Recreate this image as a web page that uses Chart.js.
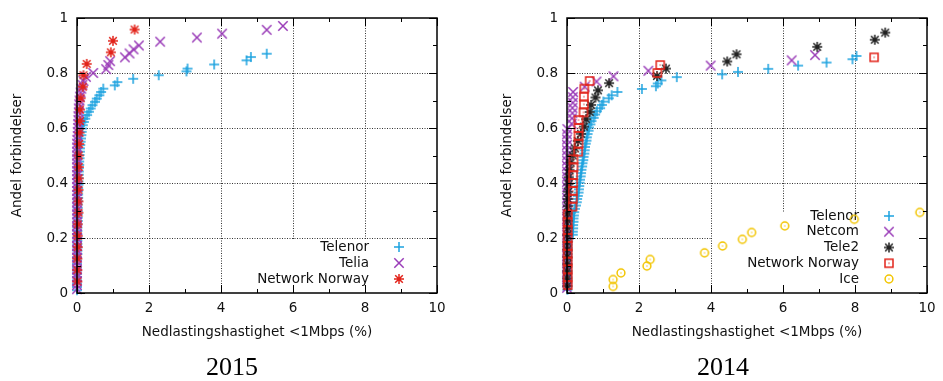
<!DOCTYPE html>
<html>
<head>
<meta charset="utf-8">
<script src="https://cdn.jsdelivr.net/npm/chart.js@4.4.1/dist/chart.umd.min.js"></script>
<style>
	html, body { margin: 0; padding: 0; background: #fff; }
	#wrap { position: relative; width: 943px; height: 381px; overflow: hidden; }
	canvas { position: absolute; top: 0; }
	#c2015 { left: 0; }
	#c2014 { left: 470px; }
</style>
</head>
<body>
<div id="wrap">
	<canvas id="c2015" width="470" height="381"></canvas>
	<canvas id="c2014" width="473" height="381"></canvas>
</div>
<script>
/* Two gnuplot-like scatter plots: share of connections vs download speed <1Mbps (%) */

var xTitle = 'Nedlastingshastighet <1Mbps (%)';
var yTitle = 'Andel forbindelser';

// 2015 series, pairs of [x (%), y (share)]
var telenor2015 = [[5.27,.870],[4.83,.858],[4.71,.846],[3.81,.831],[3.07,.816],[3.04,.806],[2.27,.792],[1.56,.779],[1.12,.767],[1.05,.755],[0.73,.743],[0.67,.731],[0.62,.719],[0.55,.707],[0.50,.695],[0.43,.683],[0.38,.671],[0.33,.659],[0.28,.647],[0.23,.634],[0.19,.622],[0.16,.610],[0.14,.598],[0.13,.586],[0.12,.574],[0.11,.562],[0.10,.550],[0.09,.538],[0.08,.526],[0.08,.514],[0.07,.502],[0.07,.490],[0.06,.478],[0.06,.466],[0.05,.454],[0.05,.442],[0.05,.430],[0.04,.418],[0.04,.406],[0.04,.394],[0.03,.382],[0.03,.370],[0.03,.358],[0.03,.346],[0.02,.334],[0.02,.322],[0.02,.310],[0.02,.298],[0.02,.286],[0.02,.274],[0.02,.262],[0.01,.250],[0.01,.238],[0.01,.226],[0.01,.214],[0.01,.202],[0.01,.190],[0.01,.178],[0.01,.166],[0.01,.154],[0.01,.142],[0,.130],[0,.118],[0,.106],[0,.094],[0,.082],[0,.070],[0,.058],[0,.046],[0,.034],[0,.022],[0,.010]];
var telia2015 = [[5.72,.971],[5.27,.957],[4.03,.943],[3.33,.929],[2.31,.914],[1.72,.900],[1.57,.886],[1.46,.871],[1.33,.857],[0.92,.843],[0.87,.829],[0.81,.814],[0.45,.800],[0.25,.786],[0.18,.771],[0.15,.757],[0.12,.743],[0.10,.729],[0.08,.714],[0.07,.700],[0.06,.686],[0.05,.671],[0.05,.657],[0.04,.643],[0.04,.629],[0.03,.614],[0.03,.600],[0.02,.586],[0.02,.571],[0.01,.557],[0,.543],[0,.529],[0,.514],[0,.500],[0,.486],[0,.471],[0,.457],[0,.443],[0,.429],[0,.414],[0,.400],[0,.386],[0,.371],[0,.357],[0,.343],[0,.329],[0,.314],[0,.300],[0,.286],[0,.271],[0,.257],[0,.243],[0,.229],[0,.214],[0,.200],[0,.186],[0,.171],[0,.157],[0,.143],[0,.129],[0,.114],[0,.100],[0,.086],[0,.071],[0,.057],[0,.043],[0,.029],[0,.014]];
var netNorway2015 = [[1.60,.958],[1.00,.917],[0.94,.875],[0.27,.833],[0.18,.792],[0.16,.750],[0.10,.708],[0.08,.667],[0.08,.625],[0.07,.583],[0.06,.542],[0.05,.500],[0.05,.458],[0.05,.417],[0.04,.375],[0.04,.333],[0.04,.292],[0.02,.250],[0.02,.208],[0.02,.167],[0.01,.125],[0.01,.083],[0.01,.042]];

// 2014 series
var telenor2014 = [[8.04,.862],[7.93,.850],[7.21,.838],[6.42,.827],[5.59,.815],[4.75,.804],[4.31,.795],[3.05,.785],[2.62,.773],[2.52,.762],[2.47,.752],[2.08,.742],[1.40,.731],[1.24,.719],[1.16,.708],[1.01,.696],[0.97,.684],[0.92,.672],[0.83,.661],[0.78,.649],[0.74,.637],[0.68,.625],[0.65,.613],[0.61,.602],[0.60,.590],[0.57,.578],[0.55,.566],[0.54,.554],[0.52,.543],[0.50,.531],[0.49,.519],[0.48,.507],[0.46,.495],[0.45,.483],[0.43,.472],[0.42,.460],[0.40,.448],[0.39,.436],[0.38,.424],[0.36,.412],[0.35,.401],[0.34,.389],[0.33,.377],[0.32,.365],[0.30,.353],[0.28,.342],[0.27,.330],[0.25,.318],[0.22,.306],[0.20,.294],[0.19,.282],[0.18,.271],[0.18,.259],[0.17,.247],[0.17,.235],[0.16,.223],[0.16,.212],[0.03,.200],[0.03,.188],[0.02,.176],[0.02,.165],[0.02,.153],[0.02,.141],[0.02,.129],[0.01,.118],[0.01,.106],[0.01,.094],[0.01,.082],[0.01,.071],[0.01,.059],[0.01,.047],[0.01,.035],[0.01,.024],[0.01,.012]];
var netcom2014 = [[6.89,.865],[6.24,.846],[3.99,.827],[2.26,.808],[1.29,.788],[0.82,.769],[0.49,.750],[0.17,.731],[0.16,.712],[0.16,.692],[0.15,.673],[0.15,.654],[0.14,.635],[0.13,.615],[0.01,.596],[0,.577],[0,.558],[0,.538],[0,.519],[0,.500],[0,.481],[0,.462],[0,.442],[0,.423],[0,.404],[0,.385],[0,.365],[0,.346],[0,.327],[0,.308],[0,.288],[0,.269],[0,.250],[0,.231],[0,.212],[0,.192],[0,.173],[0,.154],[0,.135],[0,.115],[0,.096],[0,.077],[0,.058],[0,.038],[0,.019]];
var tele22014 = [[8.84,.947],[8.55,.921],[6.95,.895],[4.71,.868],[4.45,.842],[2.75,.816],[2.50,.789],[1.17,.763],[0.86,.737],[0.79,.711],[0.67,.684],[0.63,.658],[0.53,.632],[0.47,.605],[0.39,.579],[0.30,.553],[0.22,.526],[0.16,.500],[0.10,.474],[0.07,.447],[0.05,.421],[0.04,.395],[0.03,.368],[0.02,.342],[0.02,.316],[0.02,.289],[0.02,.263],[0.02,.237],[0.01,.211],[0.01,.184],[0.01,.158],[0.01,.132],[0.01,.105],[0.01,.079],[0.01,.053],[0.01,.026]];
var netNorway2014 = [[8.53,.857],[2.59,.829],[2.51,.800],[0.63,.771],[0.48,.743],[0.47,.714],[0.47,.686],[0.46,.657],[0.32,.629],[0.32,.600],[0.32,.571],[0.32,.543],[0.31,.514],[0.18,.486],[0.18,.457],[0.17,.429],[0.17,.400],[0.16,.371],[0.16,.343],[0.15,.314],[0.02,.286],[0.02,.257],[0.02,.229],[0.02,.200],[0.02,.171],[0.02,.143],[0.02,.114],[0.02,.086],[0.02,.057],[0.02,.029]];
var ice2014 = [[1.28,.024],[1.28,.049],[1.50,.073],[2.22,.098],[2.31,.122],[3.82,.146],[4.32,.171],[4.87,.195],[5.13,.220],[6.05,.244],[7.98,.268],[9.80,.293]];

var xTicksStep = 2;
var yTicksStep = 0.2;

var FONT = 'DejaVu Sans';
var TEXT = '#111';

// small canvas images that imitate gnuplot point types
function marker(kind, color) {
	var c = document.createElement('canvas');
	c.width = 12; c.height = 12;
	var g = c.getContext('2d');
	g.strokeStyle = color; g.fillStyle = color; g.lineWidth = 1.5;
	g.beginPath();
	if (kind == 'plus' || kind == 'star') { g.moveTo(1, 6); g.lineTo(11, 6); g.moveTo(6, 1); g.lineTo(6, 11); }
	if (kind == 'cross' || kind == 'star') {
		var d = kind == 'star' ? 2.2 : 1.3;
		g.moveTo(d, d); g.lineTo(12 - d, 12 - d); g.moveTo(12 - d, d); g.lineTo(d, 12 - d);
	}
	if (kind == 'square') g.rect(2, 2, 8, 8);
	if (kind == 'circle') g.arc(6, 6, 3.9, 0, Math.PI * 2);
	g.stroke();
	if (kind == 'square' || kind == 'circle') g.fillRect(5.4, 5.4, 1.2, 1.2);
	return c;
}

function serie(label, pairs, kind, color, n, i) {
	return {
		label: label,
		data: pairs.map(function (p) { return { x: p[0], y: p[1] }; }),
		pointStyle: marker(kind, color),
		pointRadius: 5,
		pointHoverRadius: 5,
		showLine: false,
		clip: false,
		order: n - i   // first series at the bottom, like gnuplot
	};
}

// grid, key, frame, inward ticks and caption
var gnuplotLook = {
	id: 'gnuplotLook',
	beforeDatasetsDraw: function (chart, args, opt) {
		var ctx = chart.ctx, a = chart.chartArea;
		var xs = chart.scales.x, ys = chart.scales.y;
		ctx.save();
		ctx.strokeStyle = '#333';
		ctx.lineWidth = 1;
		ctx.setLineDash([1, 1.5]);
		xs.ticks.forEach(function (t) {
			if (t.value <= xs.min || t.value >= xs.max) return;
			var px = Math.round(xs.getPixelForValue(t.value)) + 0.5;
			ctx.beginPath(); ctx.moveTo(px, a.top); ctx.lineTo(px, a.bottom); ctx.stroke();
		});
		ys.ticks.forEach(function (t) {
			if (t.value <= ys.min || t.value >= ys.max) return;
			var py = Math.round(ys.getPixelForValue(t.value)) + 0.5;
			ctx.beginPath(); ctx.moveTo(a.left, py); ctx.lineTo(a.right, py); ctx.stroke();
		});
		ctx.setLineDash([]);

		// key with opaque background
		var k = opt.key;
		ctx.fillStyle = '#fff';
		ctx.fillRect(k.left, k.top, a.right - k.left, a.bottom - k.top);
		ctx.font = '13.5px "' + FONT + '"';
		ctx.fillStyle = TEXT;
		ctx.textAlign = 'right';
		ctx.textBaseline = 'middle';
		chart.data.datasets.forEach(function (ds, i) {
			var y = k.firstY + i * k.step;
			ctx.fillText(ds.label, k.textRight, y);
			var im = ds.pointStyle;
			ctx.drawImage(im, k.markX - im.width / 2, y - im.height / 2);
		});
		ctx.restore();
	},
	afterDatasetsDraw: function (chart) {
		var ctx = chart.ctx, a = chart.chartArea;
		var xs = chart.scales.x, ys = chart.scales.y;
		ctx.save();
		ctx.strokeStyle = '#000';
		ctx.lineWidth = 1;
		function ticks(scale, horiz) {
			var v = scale.ticks.map(function (t) { return t.value; });
			for (var i = 0; i < v.length; i++) {
				var list = [[v[i], 8]];
				if (i < v.length - 1) list.push([(v[i] + v[i + 1]) / 2, 4]);
				list.forEach(function (m) {
					var p = Math.round(scale.getPixelForValue(m[0])) + 0.5;
					ctx.beginPath();
					if (horiz) {
						ctx.moveTo(p, a.bottom); ctx.lineTo(p, a.bottom - m[1]);
						ctx.moveTo(p, a.top); ctx.lineTo(p, a.top + m[1]);
					} else {
						ctx.moveTo(a.left, p); ctx.lineTo(a.left + m[1], p);
						ctx.moveTo(a.right, p); ctx.lineTo(a.right - m[1], p);
					}
					ctx.stroke();
				});
			}
		}
		ticks(xs, true);
		ticks(ys, false);
		ctx.lineWidth = 1.5;
		ctx.strokeRect(a.left, a.top, a.right - a.left, a.bottom - a.top);
		ctx.restore();
	},
	afterDraw: function (chart, args, opt) {
		var ctx = chart.ctx;
		ctx.save();
		ctx.font = '26px "Liberation Serif"';
		ctx.fillStyle = '#000';
		ctx.textAlign = 'center';
		ctx.textBaseline = 'alphabetic';
		ctx.fillText(opt.caption.text, opt.caption.x, opt.caption.y);
		ctx.restore();
	}
};

function oneDecimal(v) { return String(Number(v.toFixed(1))); }

function creaGrafica(id, series, padLeft, padRight, key, caption) {
	var n = series.length;
	var datasets = series.map(function (s, i) { return serie(s[0], s[1], s[2], s[3], n, i); });
	return new Chart(document.getElementById(id), {
		type: 'scatter',
		data: { datasets: datasets },
		options: {
			responsive: false,
			animation: false,
			devicePixelRatio: 1,
			events: [],
			layout: { padding: { left: padLeft, top: 18, right: padRight, bottom: 38 } },
			plugins: {
				legend: { display: false },
				tooltip: { enabled: false },
				gnuplotLook: { key: key, caption: caption }
			},
			scales: {
				x: {
					type: 'linear', min: 0, max: 10,
					grid: { display: false, drawTicks: false },
					border: { display: false },
					ticks: { stepSize: xTicksStep, padding: 7, color: TEXT, font: { family: FONT, size: 13.5 }, maxRotation: 0 },
					title: { display: true, text: xTitle, color: TEXT, font: { family: FONT, size: 13.5 }, padding: { top: 0, bottom: 2 } },
					afterFit: function (s) { s.height = 50; }
				},
				y: {
					type: 'linear', min: 0, max: 1,
					grid: { display: false, drawTicks: false },
					border: { display: false },
					ticks: { stepSize: yTicksStep, padding: 9, color: TEXT, font: { family: FONT, size: 13.5 }, callback: oneDecimal },
					title: { display: true, text: yTitle, color: TEXT, font: { family: FONT, size: 13.5 }, padding: { top: 9, bottom: 0 } },
					afterFit: function (s) { s.width = 77; }
				}
			}
		},
		plugins: [gnuplotLook]
	});
}

var TELENOR = '#1ca3e0', PURPLE = '#9a3cb8', RED = '#e2231a', BLACK = '#222222', YELLOW = '#f2c500';

creaGrafica('c2015', [
	['Telenor', telenor2015, 'plus', TELENOR],
	['Telia', telia2015, 'cross', PURPLE],
	['Network Norway', netNorway2015, 'star', RED]
], 0, 33, { left: 222, top: 239, textRight: 369, markX: 399, firstY: 247, step: 16 }, { text: '2015', x: 232, y: 375 });

creaGrafica('c2014', [
	['Telenor', telenor2014, 'plus', TELENOR],
	['Netcom', netcom2014, 'cross', PURPLE],
	['Tele2', tele22014, 'star', BLACK],
	['Network Norway', netNorway2014, 'square', RED],
	['Ice', ice2014, 'circle', YELLOW]
], 20, 16, { left: 242, top: 212, textRight: 389, markX: 419, firstY: 216, step: 15.75 }, { text: '2014', x: 253, y: 375 });
</script>
</body>
</html>
